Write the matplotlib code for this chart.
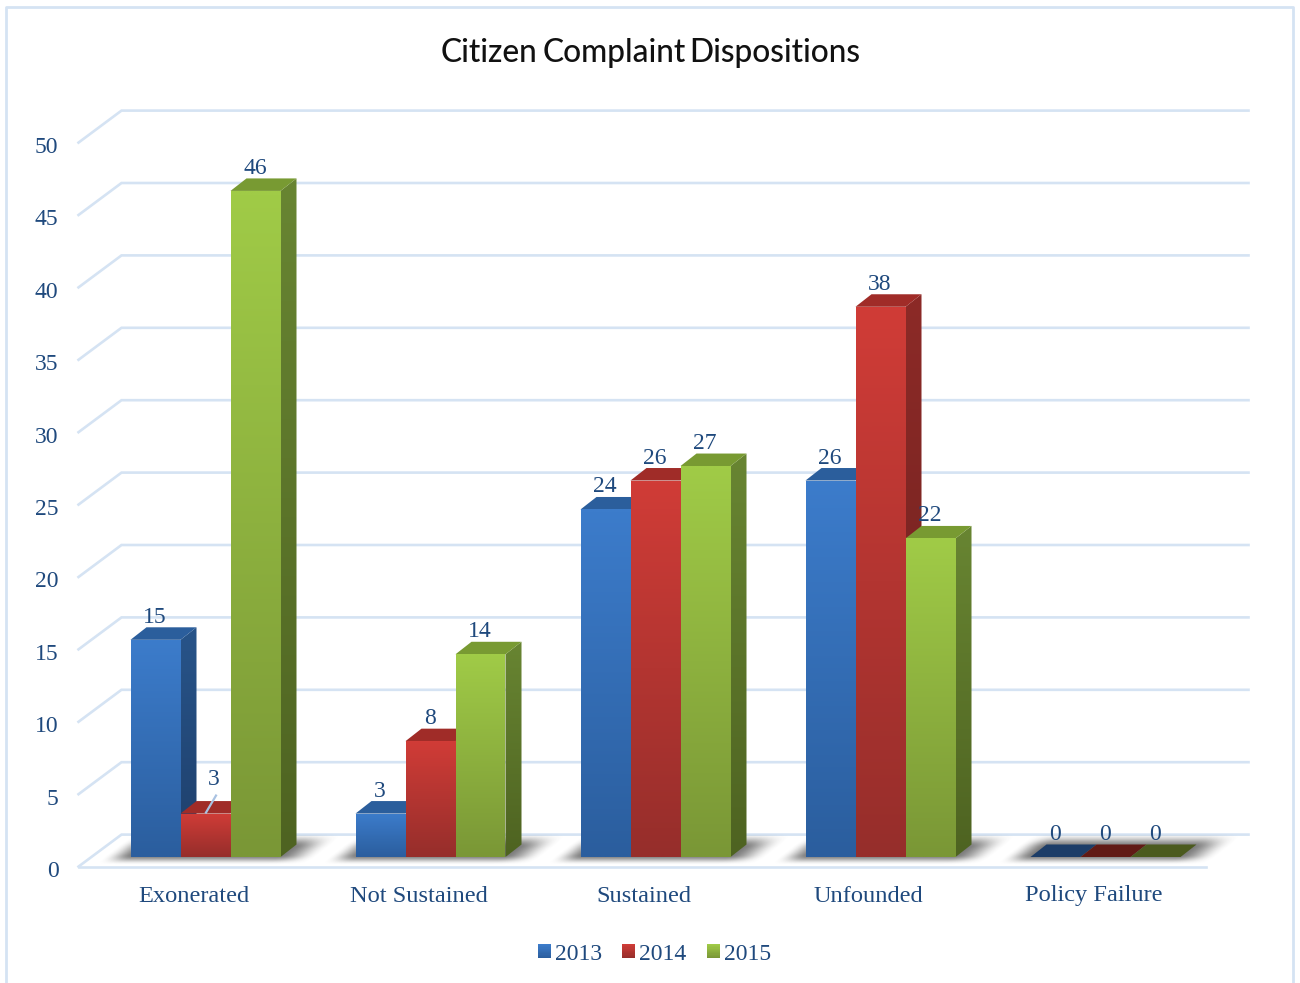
import numpy as np
import matplotlib
matplotlib.use("Agg")
import matplotlib.pyplot as plt
from matplotlib.colors import to_rgb
from matplotlib.legend_handler import HandlerBase
from matplotlib.patches import Polygon, Patch, Rectangle
from matplotlib.lines import Line2D

# Chart data
categories = ["Exonerated", "Not Sustained", "Sustained", "Unfounded", "Policy Failure"]
years = ["2013", "2014", "2015"]
values_2013 = [15, 3, 24, 26, 0]
values_2014 = [3, 8, 26, 38, 0]
values_2015 = [46, 14, 27, 22, 0]
y_ticks = [0, 5, 10, 15, 20, 25, 30, 35, 40, 45, 50]
title_words = ["Citizen", "Complaint", "Dispositions"]

# Scale of the data area, in pixels per unit
PX_X = 225.0
PX_Y = 14.48
ORIGIN_X = 130.5
ORIGIN_Y = 857.0
W, H = 1300, 983

TEXT = "#1F497D"
GRID = "#D5E3F3"
SERIF = "Liberation Serif"

# front top, front bottom, side top, side bottom, cap, cap of an empty bar
palette = [
    ("#3C7CCB", "#2B5E9E", "#285489", "#1E3F6B", "#2B5E9C", "#1C3D68"),
    ("#D03C37", "#962E2B", "#8C2A27", "#6C201E", "#A02C28", "#611A15"),
    ("#A0CB47", "#7A9736", "#688532", "#4E6321", "#789A32", "#4B5A1E"),
]

fig = plt.figure(figsize=(W / 100, H / 100), dpi=100, facecolor="white")
ax = fig.add_axes([0, 0, 1, 1])
ax.axis("off")
x_limits = (-ORIGIN_X / PX_X, (W - ORIGIN_X) / PX_X)
y_limits = ((ORIGIN_Y - H) / PX_Y, ORIGIN_Y / PX_Y)

slot = 50 / PX_X
depth_x = 16 / PX_X
depth_y = 12.5 / PX_Y
wall_left = -52 / PX_X
wall_back = -9 / PX_X
back_right = 1118 / PX_X
floor_right = 1075 / PX_X
back_lift = 22.4 / PX_Y
front_drop = 9.6 / PX_Y


def shaded_face(verts, top, bottom, z):
    """Fill a polygon with a vertical gradient running from top to bottom."""
    verts = np.asarray(verts, dtype=float)
    c0, c1 = np.array(to_rgb(top)), np.array(to_rgb(bottom))
    t = np.linspace(0, 1, 64)[:, None]
    ramp = (c0 * (1 - t) + c1 * t)[:, None, :]
    x0, x1 = verts[:, 0].min(), verts[:, 0].max()
    y0, y1 = verts[:, 1].min(), verts[:, 1].max()
    im = ax.imshow(ramp, extent=(x0, x1, y0, y1), origin="upper", aspect="auto",
                   interpolation="bilinear", zorder=z)
    im.set_clip_path(Polygon(verts, closed=True, transform=ax.transData))


def smooth(a):
    a = np.clip(a, 0, 1)
    return a * a * (3 - 2 * a)


def floor_shadow(left, z):
    """Soft shadow on the floor below one group of three bars."""
    xs = np.linspace(left - 60 / PX_X, left + 240 / PX_X, 300)
    ys = np.linspace(-12 / PX_Y, 28 / PX_Y, 80)
    gx, gy = np.meshgrid(xs, ys)
    lift = gy * PX_Y
    skewed = (gx - left) * PX_X - lift * 16 / 12.5
    alpha = (smooth((skewed + 28) / 30) * smooth((186 - skewed) / 40)
             * smooth((lift + 8) / 10) * smooth((24 - lift) / 14)) * 0.68
    rgba = np.zeros(gx.shape + (4,))
    rgba[..., :3] = 0.22
    rgba[..., 3] = alpha
    ax.imshow(rgba, extent=(xs[0], xs[-1], ys[0], ys[-1]), origin="lower",
              aspect="auto", interpolation="bilinear", zorder=z)


class GradientSwatch(HandlerBase):
    """Legend key built from thin stacked bands that fade from top to bottom."""

    def __init__(self, top, bottom):
        super().__init__()
        self.top = np.array(to_rgb(top))
        self.bottom = np.array(to_rgb(bottom))

    def create_artists(self, legend, orig_handle, xdescent, ydescent, width, height,
                       fontsize, trans):
        bands = []
        n = 12
        for k in range(n):
            t = k / (n - 1)
            colour = self.top * (1 - t) + self.bottom * t
            bands.append(Rectangle((-xdescent, -ydescent + height * (1 - (k + 1) / n)),
                                   width, height / n * 1.05, fc=colour, ec="none",
                                   transform=trans))
        return bands


# Wall and floor gridlines
for v in y_ticks:
    back = v + back_lift
    front = v - front_drop
    ax.plot([wall_left, wall_back, back_right], [front, back, back],
            color=GRID, lw=1.9, zorder=1, solid_joinstyle="miter")
    ax.text(-72 / PX_X, v - 14.5 / PX_Y, str(v), ha="right", va="center",
            family=SERIF, fontsize=17, color=TEXT, zorder=20)
ax.plot([wall_left, floor_right], [-front_drop, -front_drop], color=GRID, lw=1.9, zorder=1)

# Bars, painted from left to right so each one overlaps its neighbour's side
series = [values_2013, values_2014, values_2015]
z = 3.0
for i in range(len(categories)):
    floor_shadow(i, 2)
    for j, vals in enumerate(series):
        v = vals[i]
        x0 = i + j * slot
        x1 = x0 + slot
        front_top, front_bottom, side_top, side_bottom, cap, empty_cap = palette[j]
        cap_colour = cap if v > 0 else empty_cap
        if v > 0:
            shaded_face([(x1, 0), (x1 + depth_x, depth_y), (x1 + depth_x, v + depth_y), (x1, v)],
                        side_top, side_bottom, z)
        ax.add_patch(Polygon([(x0, v), (x0 + depth_x, v + depth_y),
                              (x1 + depth_x, v + depth_y), (x1, v)],
                             closed=True, fc=cap_colour, ec="none", zorder=z + 0.1))
        if v > 0:
            shaded_face([(x0, 0), (x1, 0), (x1, v), (x0, v)], front_top, front_bottom, z + 0.2)
        z += 0.3

# Value labels
for i in range(len(categories)):
    for j, vals in enumerate(series):
        v = vals[i]
        x = i + j * slot + 24.5 / PX_X
        y = v + 22.5 / PX_Y
        if i == 0 and j == 1:
            # This label sits higher, tied to its short bar by a leader line
            x = i + j * slot + 33.5 / PX_X
            y = v + 34 / PX_Y
            ax.add_line(Line2D([x - 8 / PX_X, x + 2 / PX_X], [v + 1 / PX_Y, v + 18 / PX_Y],
                               color="#A9C2E2", lw=1.6, zorder=19))
        ax.text(x, y, str(v), ha="center", va="center", family=SERIF,
                fontsize=17, color=TEXT, zorder=20)

# Category labels
for i, name in enumerate(categories):
    ax.text(i + 63 / PX_X, -39 / PX_Y, name, ha="center", va="center",
            family=SERIF, fontsize=17.6, color=TEXT, zorder=20)

ax.set_xlim(x_limits)
ax.set_ylim(y_limits)

# Legend
handles = [Patch(fc=palette[k][0], ec="none", label=years[k]) for k in range(3)]
handler_map = {handles[k]: GradientSwatch(palette[k][0], palette[k][1]) for k in range(3)}
leg = fig.legend(handles=handles, handler_map=handler_map, loc="center",
                 bbox_to_anchor=(654.5 / W, 1 - 954 / H),
                 ncol=3, frameon=False, handlelength=0.56, handleheight=0.56,
                 handletextpad=0.17, columnspacing=0.85, borderpad=0, borderaxespad=0,
                 prop={"family": SERIF, "size": 17})
for t in leg.get_texts():
    t.set_color(TEXT)

# Title, set word by word for its tight spacing
for word, left in zip(title_words, [441, 543, 689]):
    fig.text(left / W, 1 - 53 / H, word, ha="left", va="center", family="Lato",
             fontweight="medium", fontsize=22.8, color="#111111")

# Chart border, open along the bottom edge
fig.add_artist(Line2D([6 / W, 6 / W, 1293 / W, 1293 / W], [0, 1 - 7 / H, 1 - 7 / H, 0],
                      color=GRID, lw=2, transform=fig.transFigure))

fig.savefig("out.png", dpi=100, facecolor="white")
